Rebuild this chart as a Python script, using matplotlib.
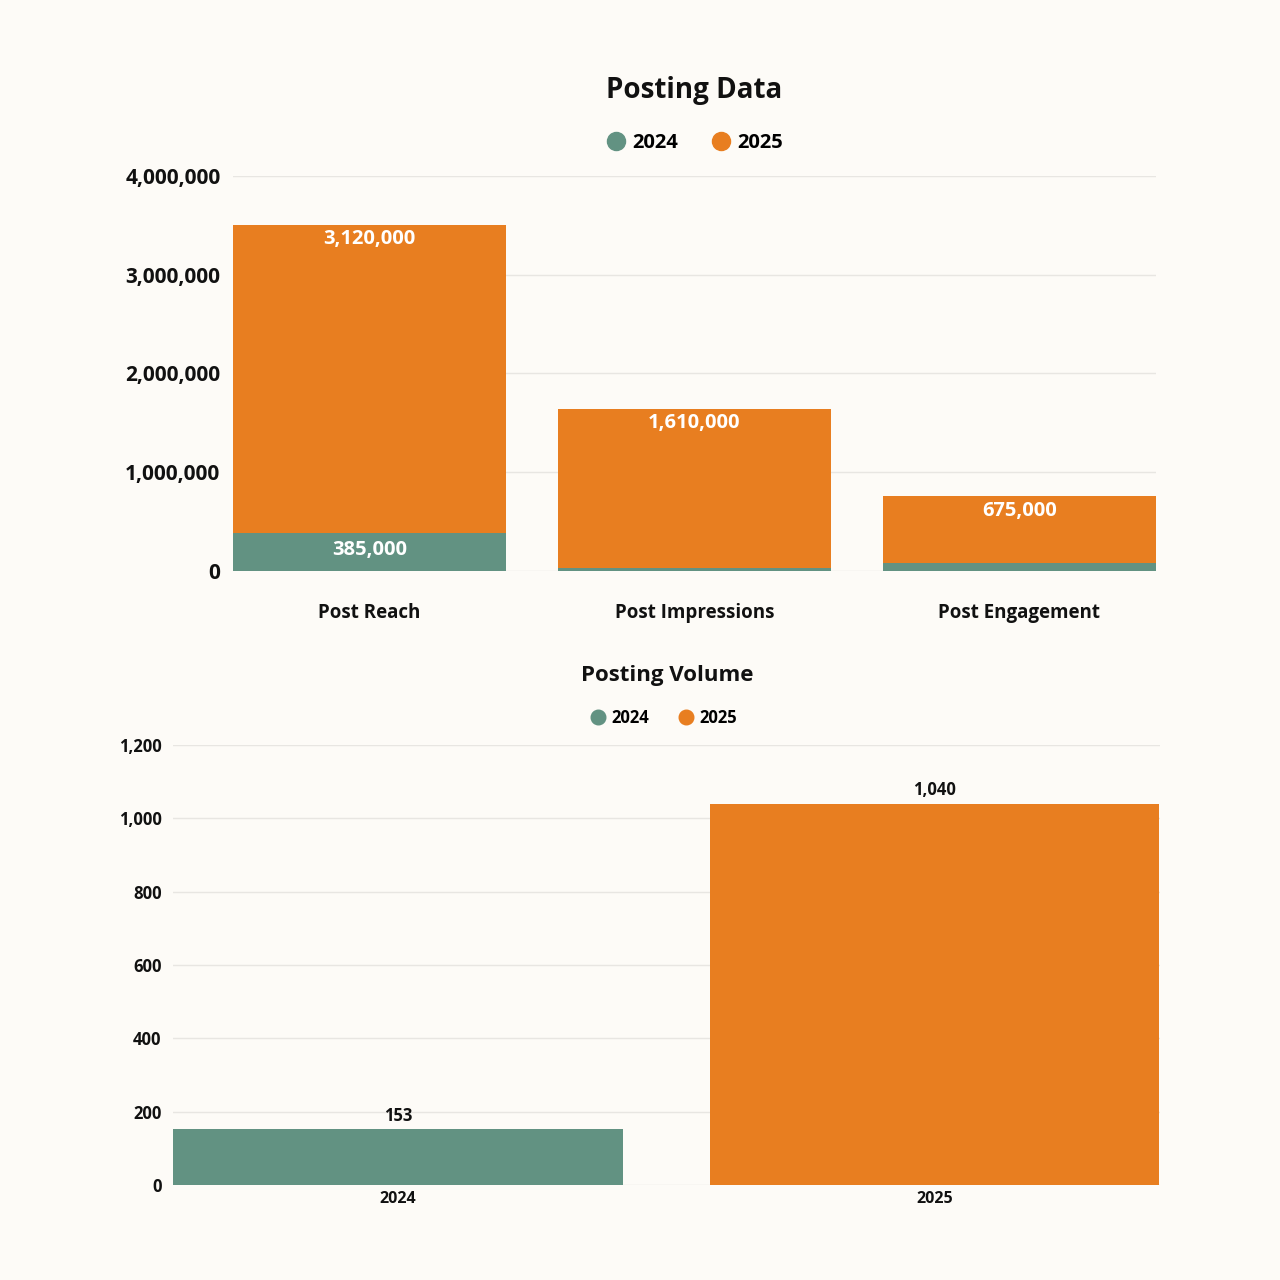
import matplotlib.pyplot as plt
from matplotlib.lines import Line2D
from matplotlib.ticker import FuncFormatter

# Data
metrics = ["Post Reach", "Post Impressions", "Post Engagement"]
values_2024 = [385000, 30000, 80000]
values_2025 = [3120000, 1610000, 675000]
labels_2024 = ["385,000", "", ""]
labels_2025 = ["3,120,000", "1,610,000", "675,000"]

volume_years = ["2024", "2025"]
volume_values = [153, 1040]

# Style
teal = "#629282"
orange = "#e87e20"
bg = "#fdfbf7"
grid_col = "#e8e6e2"
text_col = "#111111"

plt.rcParams["font.family"] = ["Open Sans", "DejaVu Sans"]

fig = plt.figure(figsize=(12.8, 12.8), dpi=100, facecolor=bg)

# ---- Posting Data (stacked) ----
ax1 = fig.add_axes([0.182, 0.554, 0.721, 0.3086], facecolor=bg)
x = range(len(metrics))
w = 0.84
ax1.bar(x, values_2024, width=w, color=teal, zorder=3)
ax1.bar(x, values_2025, width=w, bottom=values_2024, color=orange, zorder=3)
for i in x:
    top = values_2024[i] + values_2025[i]
    ax1.text(i, top - 45000, labels_2025[i], ha="center", va="top",
             color="white", fontsize=14.5, fontweight="bold", zorder=4)
    if labels_2024[i]:
        ax1.text(i, values_2024[i] / 2 + 20000, labels_2024[i], ha="center", va="center",
                 color="white", fontsize=14.5, fontweight="bold", zorder=4)
ax1.set_xlim(-0.42, 2.42)
ax1.set_ylim(0, 4000000)
ax1.set_yticks([0, 1000000, 2000000, 3000000, 4000000])
ax1.yaxis.set_major_formatter(FuncFormatter(lambda v, p: f"{int(v):,}"))
ax1.set_xticks(list(x))
ax1.set_xticklabels(metrics)
ax1.grid(axis="y", color=grid_col, linewidth=1, zorder=0)
for s in ax1.spines.values():
    s.set_visible(False)
ax1.tick_params(axis="y", length=0, labelsize=15, colors=text_col, pad=9)
ax1.tick_params(axis="x", length=0, labelsize=13.5, colors=text_col, pad=23)
for lab in ax1.get_yticklabels() + ax1.get_xticklabels():
    lab.set_fontweight("bold")

fig.text(0.5426, 0.929, "Posting Data", ha="center", va="center",
         fontsize=20, fontweight="bold", color=text_col)
handles = [Line2D([], [], marker="o", linestyle="", markersize=13, color=teal, label="2024"),
           Line2D([], [], marker="o", linestyle="", markersize=13, color=orange, label="2025")]
fig.legend(handles=handles, loc="center", bbox_to_anchor=(0.5426, 0.888), ncol=2,
           frameon=False, prop={"size": 14.5, "weight": "bold"},
           handletextpad=0.3, columnspacing=1.6, handlelength=1.0)

# ---- Posting Volume ----
ax2 = fig.add_axes([0.135, 0.0742, 0.771, 0.3438], facecolor=bg)
xv = range(len(volume_years))
ax2.bar(xv, volume_values, width=0.838, color=[teal, orange], zorder=3)
for i in xv:
    ax2.text(i, volume_values[i] + 12, f"{volume_values[i]:,}", ha="center", va="bottom",
             fontsize=12, fontweight="bold", color=text_col, zorder=4)
ax2.set_xlim(-0.42, 1.42)
ax2.set_ylim(0, 1200)
ax2.set_yticks(range(0, 1201, 200))
ax2.yaxis.set_major_formatter(FuncFormatter(lambda v, p: f"{int(v):,}"))
ax2.set_xticks(list(xv))
ax2.set_xticklabels(volume_years)
ax2.grid(axis="y", color=grid_col, linewidth=1, zorder=0)
for s in ax2.spines.values():
    s.set_visible(False)
ax2.tick_params(axis="y", length=0, labelsize=12, colors=text_col, pad=8)
ax2.tick_params(axis="x", length=0, labelsize=11.5, colors=text_col, pad=4)
for lab in ax2.get_yticklabels() + ax2.get_xticklabels():
    lab.set_fontweight("bold")

fig.text(0.521, 0.4725, "Posting Volume", ha="center", va="center",
         fontsize=16, fontweight="bold", color=text_col)
handles2 = [Line2D([], [], marker="o", linestyle="", markersize=10.5, color=teal, label="2024"),
            Line2D([], [], marker="o", linestyle="", markersize=10.5, color=orange, label="2025")]
fig.legend(handles=handles2, loc="center", bbox_to_anchor=(0.518, 0.439), ncol=2,
           frameon=False, prop={"size": 12, "weight": "bold"},
           handletextpad=0.3, columnspacing=1.7, handlelength=1.0)

fig.savefig("out.png", dpi=100, facecolor=bg)
